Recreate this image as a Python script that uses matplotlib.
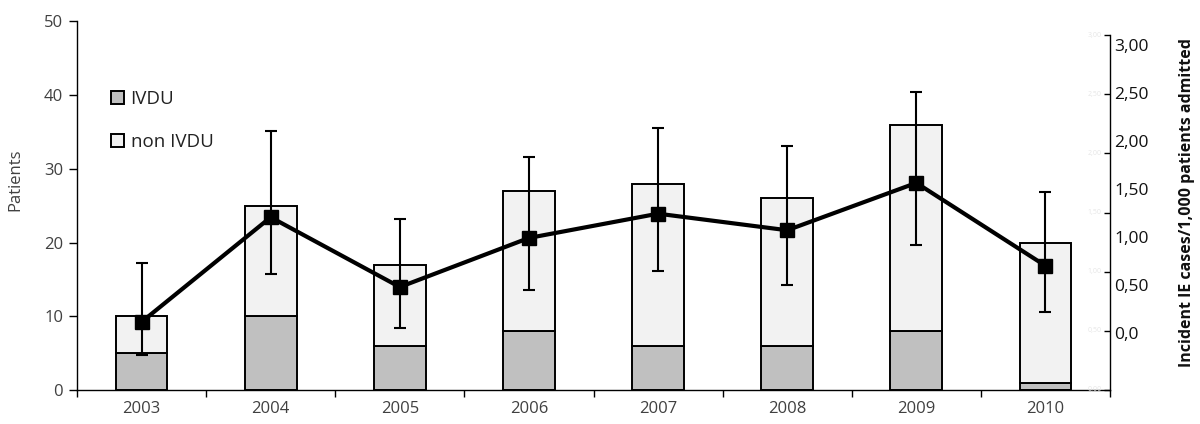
import matplotlib
matplotlib.use("Agg")
import matplotlib.pyplot as plt
from matplotlib.patches import Patch
import numpy as np

plt.rcParams['font.family'] = ['Open Sans', 'DejaVu Sans']

years = ['2003', '2004', '2005', '2006', '2007', '2008', '2009', '2010']
ivdu = [5, 10, 6, 8, 6, 6, 8, 1]
total = [10, 25, 17, 27, 28, 26, 36, 20]
non_ivdu = [t - i for t, i in zip(total, ivdu)]
rate = [0.575, 1.46, 0.87, 1.285, 1.49, 1.35, 1.75, 1.05]
rate_hi = [1.07, 2.19, 1.445, 1.97, 2.21, 2.06, 2.52, 1.67]
rate_lo = [0.30, 0.98, 0.52, 0.845, 1.005, 0.89, 1.225, 0.66]
faint_labels = ['0,00', '0,50', '1,00', '1,50', '2,00', '2,50', '3,00']
bold_ticks = [0, 0.5, 1.0, 1.5, 2.0, 2.5, 3.0]
bold_labels = ['0,0', '0,50', '1,00', '1,50', '2,00', '2,50', '3,00']

W, H = 1200, 424
fig = plt.figure(figsize=(12, 4.24), dpi=100)

def pos(x0, x1, ytop, ybot):
    return [x0 / W, (H - ybot) / H, (x1 - x0) / W, (ybot - ytop) / H]

ax = fig.add_axes(pos(77, 1110, 21.3, 390))
x = np.arange(len(years))
ax.bar(x, ivdu, width=0.4, color='#c0c0c0', edgecolor='black', linewidth=1.4, zorder=2)
ax.bar(x, non_ivdu, bottom=ivdu, width=0.4, color='#f2f2f2', edgecolor='black', linewidth=1.4, zorder=2)
ax.set_xlim(-0.5, len(years) - 0.5)
ax.set_ylim(0, 50)
ax.set_yticks([0, 10, 20, 30, 40, 50])
ax.set_xticks(x)
ax.set_xticklabels(years)
ax.set_xticks(np.arange(-0.5, len(years)), minor=True)
ax.tick_params(axis='x', which='major', length=0, labelsize=12, pad=8, colors='#404040')
ax.tick_params(axis='x', which='minor', length=5, width=1, direction='out')
ax.tick_params(axis='y', length=6, width=1, labelsize=12, colors='#404040', pad=4)
ax.tick_params(axis='both', which='both', color='black')
for s in ['top', 'right']:
    ax.spines[s].set_visible(False)
for s in ['left', 'bottom']:
    ax.spines[s].set_linewidth(1)
ax.set_ylabel('Patients', fontsize=12, color='#404040')
ax.yaxis.set_label_coords(-0.052, 0.57)

handles = [Patch(facecolor='#c0c0c0', edgecolor='black', linewidth=1.4, label='IVDU'),
           Patch(facecolor='#f2f2f2', edgecolor='black', linewidth=1.4, label='non IVDU')]
leg = ax.legend(handles=handles, loc='upper left', bbox_to_anchor=(17 / 1033, 0.86),
                frameon=False, fontsize=13.5, handlelength=0.7, handleheight=0.7,
                handletextpad=0.35, labelspacing=1.35)
for t in leg.get_texts():
    t.set_color('#222222')

# right (rate) axis
ax2 = fig.add_axes(pos(77, 1110, 35, 390))
ax2.patch.set_visible(False)
ax2.set_xlim(-0.5, len(years) - 0.5)
ax2.set_ylim(0, 3.0)
err = [np.array(rate) - np.array(rate_lo), np.array(rate_hi) - np.array(rate)]
ax2.errorbar(x, rate, yerr=err, fmt='none', ecolor='black', elinewidth=1.5,
             capsize=4, capthick=1.5, zorder=3)
ax2.plot(x, rate, color='black', linewidth=3, marker='s', markersize=10, zorder=4)

ax3 = ax2.twinx()
ax3.set_ylim(-0.594, 3.104)
for s in ax3.spines.values():
    s.set_visible(False)
ax3.set_yticks(bold_ticks)
ax3.set_yticklabels(bold_labels)
ax3.tick_params(axis='y', length=0, pad=3, labelsize=12.5, colors='#111111')
ax3.set_ylabel('Incident IE cases/1,000 patients admitted', fontsize=11.5, fontweight='bold',
               color='#111111')
ax3.yaxis.set_label_coords(1.0 + (1179 - 1110) / 1033, (390 - 203) / 355)

for s in ['top', 'left', 'bottom']:
    ax2.spines[s].set_visible(False)
ax2.spines['right'].set_visible(True)
ax2.spines['right'].set_linewidth(1)
ax2.set_xticks([])
ax2.set_yticks(np.arange(0, 3.01, 0.5))
ax2.tick_params(axis='y', which='both', left=False, right=True, labelleft=False,
                labelright=False, direction='in', length=4, width=1)
tr = ax2.get_yaxis_transform()
for v, lab in zip(np.arange(0, 3.01, 0.5), faint_labels):
    ax2.text(0.992, v, lab, transform=tr, ha='right', va='center', fontsize=5, color='#e6e6e6')

fig.savefig('out.png', dpi=100)
